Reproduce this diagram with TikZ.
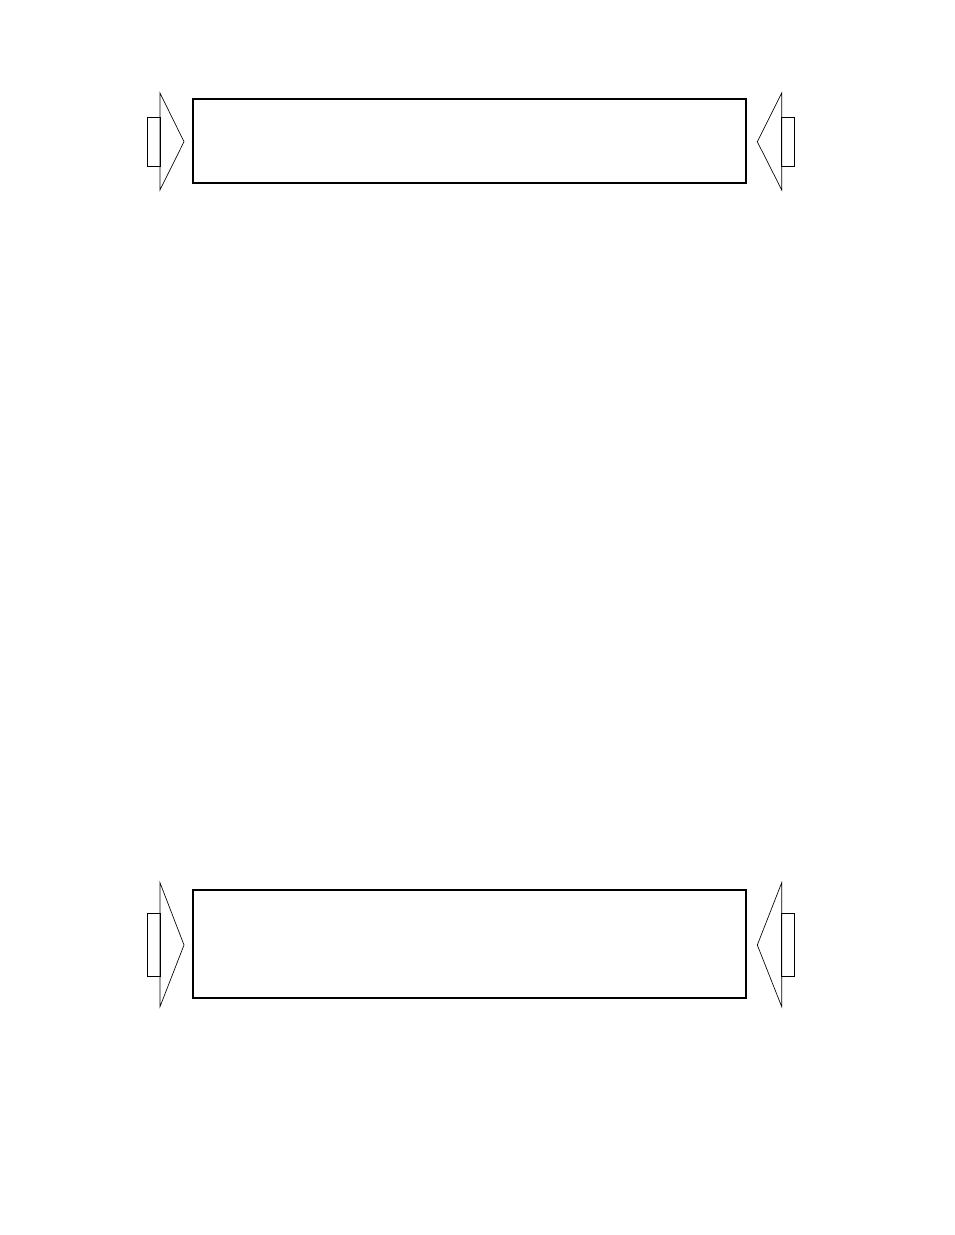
\documentclass[tikz,border=0pt]{standalone}
\usetikzlibrary{positioning, calc}
\begin{document}
\begin{tikzpicture}[x=0.75pt, y=-0.75pt,
					PanelNode/.style={draw, line width=1.2pt, inner sep=0pt, minimum width=414.75pt},
					ClampNode/.style={draw, line width=0.75pt, inner sep=0pt, minimum width=9.75pt},
					WedgeLine/.style={line width=0.5pt}]

				\useasboundingbox (0,0) rectangle (954,1235);

				\node[PanelNode, minimum height=63pt] (TopPanel) at (469.5,141) {};
				\node[PanelNode, minimum height=80.8pt] (BottomPanel) at (469.5,943.9) {};

				\draw[WedgeLine] ($(TopPanel) + (-309.5,-48)$) -- ($(TopPanel) + (-285.5,0.7)$) -- ($(TopPanel) + (-309.5,49)$) -- cycle;
				\draw[WedgeLine] ($(TopPanel) + (312.2,-48)$) -- ($(TopPanel) + (287.8,0.7)$) -- ($(TopPanel) + (312.2,49)$) -- cycle;
				\draw[WedgeLine] ($(BottomPanel) + (-309.5,-61.2)$) -- ($(BottomPanel) + (-285.5,1.1)$) -- ($(BottomPanel) + (-309.5,62.8)$) -- cycle;
				\draw[WedgeLine] ($(BottomPanel) + (312.2,-61.2)$) -- ($(BottomPanel) + (287.8,1.1)$) -- ($(BottomPanel) + (312.2,62.8)$) -- cycle;

				\node[ClampNode, minimum height=36.75pt] (TopLeftClamp) at (153.5,141.7) {};
				\node[ClampNode, minimum height=36.75pt] (TopRightClamp) at (788.2,141.7) {};
				\node[ClampNode, minimum height=47pt] (BottomLeftClamp) at (153.5,944.7) {};
				\node[ClampNode, minimum height=47pt] (BottomRightClamp) at (788.2,944.7) {};
			\end{tikzpicture}
\end{document}
